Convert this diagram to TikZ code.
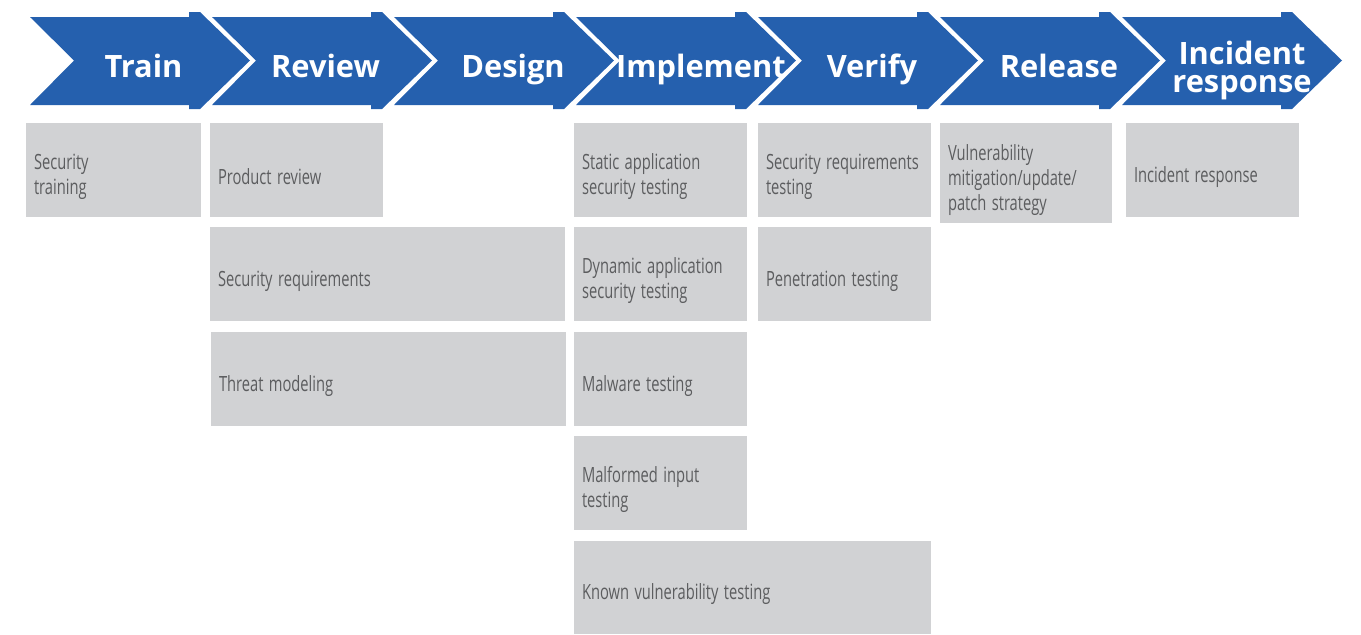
\documentclass[tikz,border=0pt]{standalone}
\usepackage{fontspec}
\setmainfont{Open Sans}
\newfontfamily\cellfont[FakeStretch=0.7]{Open Sans}
\usepackage{xcolor}
\definecolor{stepblue}{RGB}{37,96,174}
\definecolor{cellgray}{RGB}{209,210,212}
\definecolor{celltext}{RGB}{92,93,95}

\begin{document}
\begin{tikzpicture}[x=0.5pt,y=-0.5pt]
\tikzstyle{every node}+=[inner sep=0pt]
\tikzstyle{chevron}=[fill=stepblue]
\tikzstyle{phase}=[text=white, font=\fontsize{15.4}{14}\selectfont\bfseries, anchor=base, align=center]
\tikzstyle{cell}=[fill=cellgray, text=celltext, font=\cellfont\fontsize{10.5}{12.5}\selectfont, align=left, inner xsep=4pt, minimum height=47pt, text width=78.5pt, execute at begin node={\spaceskip=2.7pt\relax\rule{0pt}{15pt}}]
\useasboundingbox (0,0) rectangle (1361,634);

% phase arrows
\fill [chevron] (30,17) -- (189,17) -- (189,12) -- (200,12) -- (250,60.5) -- (200,109) -- (189,109) -- (189,105) -- (30,105) -- (74,60.5) -- cycle;
\node [phase] (train) at (143.5,77) {Train};

\fill [chevron] (212,17) -- (371,17) -- (371,12) -- (382,12) -- (432,60.5) -- (382,109) -- (371,109) -- (371,105) -- (212,105) -- (256,60.5) -- cycle;
\node [phase] (review) at (325.5,77) {Review};

\fill [chevron] (394,17) -- (553,17) -- (553,12) -- (564,12) -- (614,60.5) -- (564,109) -- (553,109) -- (553,105) -- (394,105) -- (438,60.5) -- cycle;
\node [phase] (design) at (513,77) {Design};

\fill [chevron] (576,17) -- (735,17) -- (735,12) -- (746,12) -- (796,60.5) -- (746,109) -- (735,109) -- (735,105) -- (576,105) -- (620,60.5) -- cycle;
\node [phase] (implement) at (701,77) {Implement};

\fill [chevron] (758,17) -- (917,17) -- (917,12) -- (928,12) -- (978,60.5) -- (928,109) -- (917,109) -- (917,105) -- (758,105) -- (802,60.5) -- cycle;
\node [phase] (verify) at (872,77) {Verify};

\fill [chevron] (940,17) -- (1099,17) -- (1099,12) -- (1110,12) -- (1160,60.5) -- (1110,109) -- (1099,109) -- (1099,105) -- (940,105) -- (984,60.5) -- cycle;
\node [phase] (release) at (1059,77) {Release};

\fill [chevron] (1122,17) -- (1281,17) -- (1281,12) -- (1292,12) -- (1342,60.5) -- (1292,109) -- (1281,109) -- (1281,105) -- (1122,105) -- (1166,60.5) -- cycle;
\node [phase] (incident) at (1242,92) {Incident\\response};

% activities
\node [cell, text width=79.5pt] (sectrain) at (113.5,170) {Security\\training};

\node [cell] (prodrev) at (296.5,170) {Product review};
\node [cell, text width=169.5pt] (secreq) at (387.5,274) {Security requirements};
\node [cell, text width=169.5pt] (threat) at (388.5,379) {Threat modeling};

\node [cell] (sast) at (660.5,170) {Static application\\security testing};
\node [cell] (dast) at (660.5,274) {Dynamic application\\security testing};
\node [cell] (malware) at (660.5,379) {Malware testing};
\node [cell] (malformed) at (660.5,483) {Malformed input\\testing};
\node [cell, text width=170.5pt, minimum height=46.5pt] (knownvuln) at (752.5,587.5) {Known vulnerability testing};

\node [cell] (secreqtest) at (844.5,170) {Security requirements\\testing};
\node [cell] (pentest) at (844.5,274) {Penetration testing};

\node [cell, text width=78pt, minimum height=50pt] (vulnmit) at (1026,173) {Vulnerability\\mitigation/update/\\patch strategy};

\node [cell] (incresp) at (1212.5,170) {Incident response};
\end{tikzpicture}
\end{document}
